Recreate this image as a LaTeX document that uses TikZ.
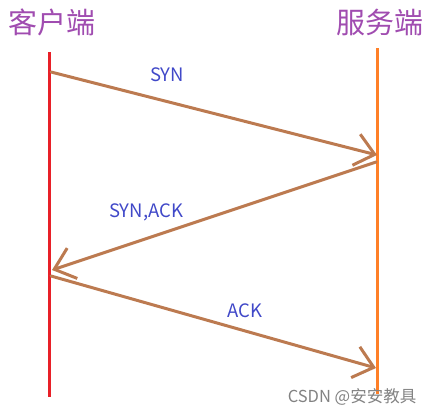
\documentclass[tikz,border=0pt]{standalone}
\usepackage{fontspec}
\setmainfont{Noto Sans CJK SC}
\usetikzlibrary{arrows.meta}
\definecolor{cred}{RGB}{232,32,40}
\definecolor{corange}{RGB}{255,128,40}
\definecolor{cbrown}{RGB}{188,122,80}
\definecolor{cpurple}{RGB}{160,76,176}
\definecolor{cblue}{RGB}{64,72,200}
\definecolor{cgray}{RGB}{130,130,130}
\begin{document}
\begin{tikzpicture}[x=1pt,y=-1pt,
  title/.style={text=cpurple,font=\fontsize{29}{32}\selectfont,inner sep=0pt},
  msg/.style={text=cblue,font=\fontsize{18.5}{21}\selectfont,inner sep=0pt},
  life/.style={line width=3pt},
  msgarrow/.style={draw=cbrown,line width=3pt,line cap=round,-{Straight Barb[length=19pt,width=32pt,line width=3pt]}}]
\useasboundingbox (0,0) rectangle (435,413);
\node[title] (client) at (52,22) {客户端};
\node[title] (server) at (380,22) {服务端};
\coordinate (ctop) at (49,52);
\coordinate (cbot) at (49,397);
\coordinate (stop) at (377,48);
\coordinate (sbot) at (377,394);
\draw[life,cred] (ctop) -- (cbot);
\draw[life,corange] (stop) -- (sbot);
\coordinate (a1) at (51,72);
\coordinate (b1) at (377,155);
\coordinate (a2) at (376,162);
\coordinate (b2) at (52,270);
\coordinate (a3) at (51,276);
\coordinate (b3) at (376,368);
\draw[msgarrow] (a1) -- (b1);
\draw[msgarrow] (a2) -- (b2);
\draw[msgarrow] (a3) -- (b3);
\node[msg] (syn) at (167,75) {SYN};
\node[msg] (synack) at (146,212) {SYN,ACK};
\node[msg] (ack) at (245,311) {ACK};
\node[text=cgray,font=\fontsize{16.5}{18}\selectfont,inner sep=0pt] (wm) at (352,397) {CSDN @安安教具};
\end{tikzpicture}
\end{document}
